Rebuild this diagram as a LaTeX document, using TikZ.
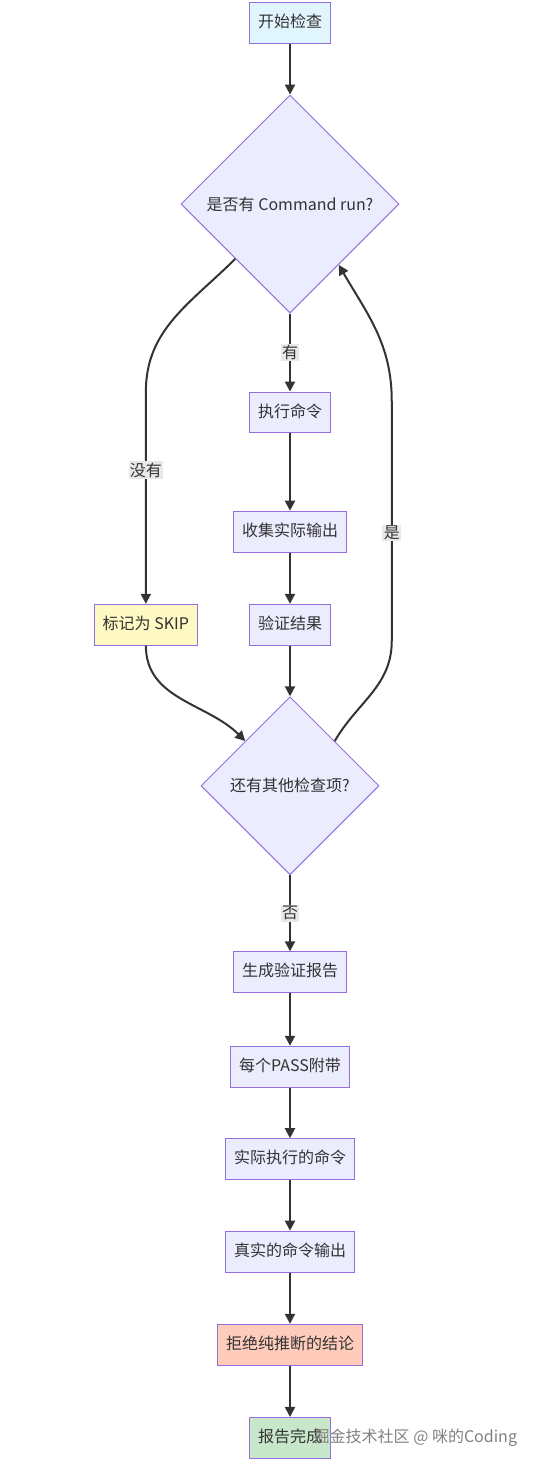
\documentclass[tikz,border=0pt]{standalone}
\usepackage{fontspec}
\setmainfont{Noto Sans CJK SC}
\usetikzlibrary{positioning, shapes.geometric, arrows.meta, calc}
\definecolor{nodefill}{HTML}{ECECFF}
\definecolor{nodeline}{HTML}{9370DB}
\definecolor{startfill}{HTML}{E1F5FE}
\definecolor{skipfill}{HTML}{FFF9C4}
\definecolor{rejectfill}{HTML}{FFCCBC}
\definecolor{donefill}{HTML}{C8E6C9}
\definecolor{linkcol}{HTML}{333333}
\definecolor{lblfill}{HTML}{E8E8E8}
\tikzset{
  txt/.style={font=\fontsize{12}{14}\selectfont, text=linkcol},
  box/.style={txt, draw=nodeline, fill=nodefill, line width=0.75pt, minimum height=30.6pt,
    inner ysep=0pt, text height=9.5pt, text depth=2.5pt, inner xsep=6.5pt},
  choice/.style={txt, diamond, aspect=1, draw=nodeline, fill=nodefill, line width=0.75pt, inner sep=0pt},
  flow/.style={-{Triangle[length=7.5pt,width=7.5pt]}, draw=linkcol, line width=1.5pt},
  lbl/.style={txt, fill=lblfill, inner sep=1pt},
  node distance=39pt
}

\begin{document}
\begin{tikzpicture}[x=0.75pt, y=-0.75pt]
    \useasboundingbox (0,0) rectangle (534,1465);
    \node[box, fill=startfill] (start) at (290,23) {开始检查};
    \node[choice, minimum size=163.5pt, below=38pt of start] (q1) {是否有 Command run?};
    \node[box, below=58.5pt of q1] (exec) {执行命令};
    \node[box, below=58pt of exec] (collect) {收集实际输出};
    \node[box, below=38.5pt of collect] (check) {验证结果};
    \node[box, fill=skipfill, left=38pt of check] (skip) {标记为 SKIP};
    \node[choice, minimum size=133.5pt, below=38pt of check] (q2) {还有其他检查项?};
    \node[box, below=57pt of q2] (report) {生成验证报告};
    \node[box, below=39.5pt of report] (pass) {每个PASS附带};
    \node[box, below=38pt of pass] (cmd) {实际执行的命令};
    \node[box, below=38pt of cmd] (output) {真实的命令输出};
    \node[box, fill=rejectfill, below=38.5pt of output] (reject) {拒绝纯推断的结论};
    \node[box, fill=donefill, below=38.5pt of reject] (done) {报告完成};

    \draw[flow] (start) -- (q1);
    \draw[flow] (q1) -- node[lbl] {有} (exec);
    \draw[flow] (q1.south west) to[out=225, in=90] (skip.north |- exec.north)
        -- node[lbl, pos=0.37] {没有} (skip.north);
    \draw[flow] (exec) -- (collect);
    \draw[flow] (collect) -- (check);
    \draw[flow] (check) -- (q2);
    \draw[flow] (skip.south) to[out=-90, in=135] (q2.north west);
    \draw[flow] (q2.north east) to[out=60, in=-90] ++(57,-100)
        -- node[lbl, pos=0.45] {是} ++(0,-240) to[out=90, in=-60] ($(q1.south east)+(-6,6)$);
    \draw[flow] (q2) -- node[lbl] {否} (report);
    \draw[flow] (report) -- (pass);
    \draw[flow] (pass) -- (cmd);
    \draw[flow] (cmd) -- (output);
    \draw[flow] (output) -- (reject);
    \draw[flow] (reject) -- (done);

    \node[txt, text=gray, anchor=west] (mark) at (done.center -| 309,0) {掘金技术社区 @ 咪的Coding};
\end{tikzpicture}
\end{document}
